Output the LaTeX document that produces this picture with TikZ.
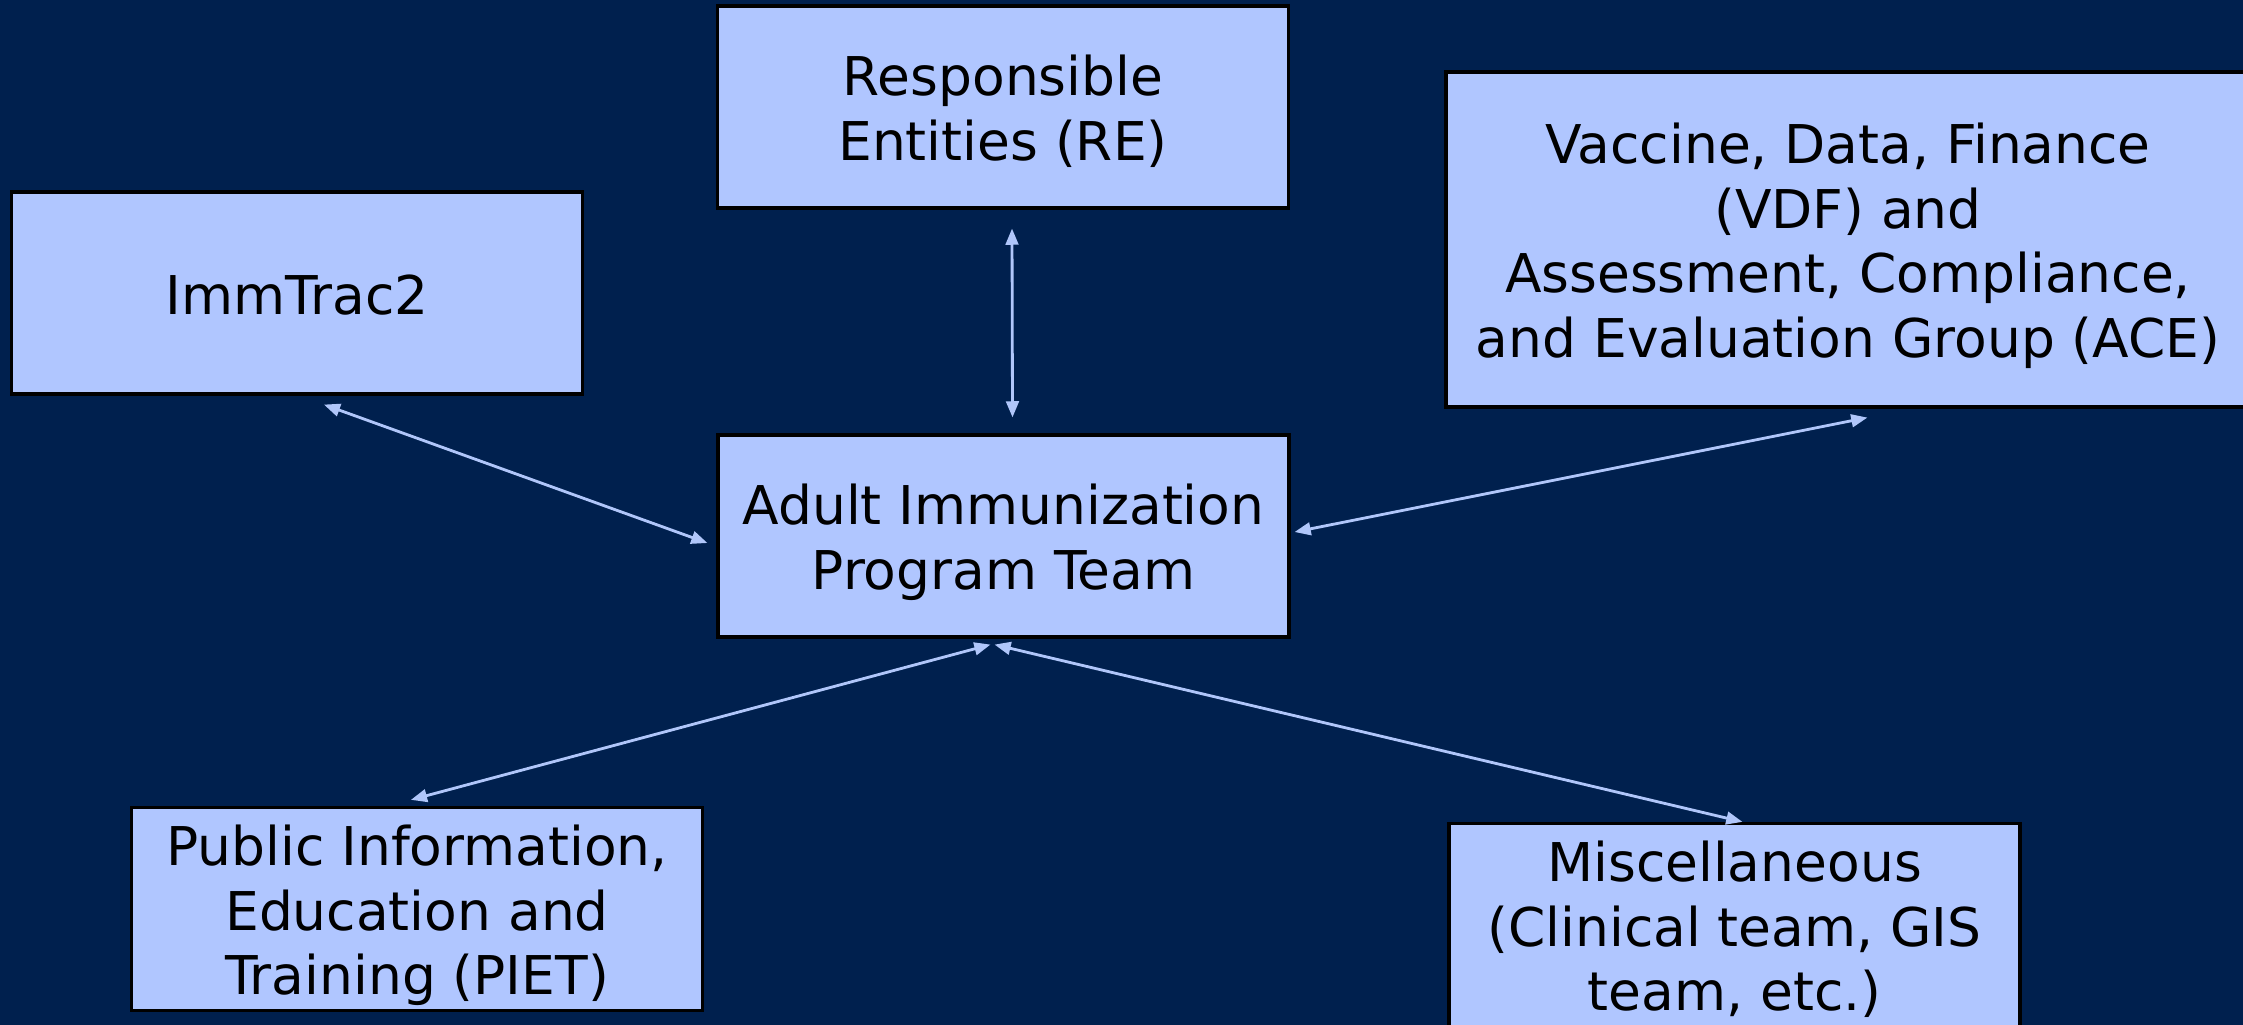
\documentclass[tikz,border=0pt]{standalone}
\usepackage{fontspec}
\setmainfont{DejaVu Sans}
\usetikzlibrary{calc,arrows.meta}
\definecolor{bgnavy}{RGB}{0,32,78}
\definecolor{boxfill}{RGB}{176,198,255}
\definecolor{arrowcol}{RGB}{176,198,250}
\newcommand\myTop{\rule{0pt}{16.5pt}}
\newcommand\myBot{\rule[-4.5pt]{0pt}{4.5pt}}
\tikzset{
  unitbox/.style={draw=black, line width=0.9pt, fill=boxfill, align=center,
    font=\fontsize{15.2pt}{18.4pt}\selectfont, inner sep=0pt,
    minimum width=5.71cm, minimum height=2.02cm},
  link/.style={draw=arrowcol, line width=0.8pt,
    {Triangle[length=4.6pt,width=3.6pt]}-{Triangle[length=4.6pt,width=3.6pt]}}
}
\begin{document}
\begin{tikzpicture}
\useasboundingbox (0,0) rectangle (22.43,10.24);
\fill[bgnavy] (-0.2,-0.2) rectangle (22.63,10.44);

\node[unitbox] (re) at (10.03,9.17) {\myTop Responsible\\Entities (RE)\myBot};
\node[unitbox] (imm) at (2.97,7.31) {\myTop ImmTrac2\myBot};
\node[unitbox, minimum width=8.04cm, minimum height=3.35cm] (vdf) at (18.48,7.845)
  {\myTop Vaccine, Data, Finance\\(VDF) and\\Assessment, Compliance,\\and Evaluation Group (ACE)\myBot};
\node[unitbox] (adult) at (10.035,4.88) {\myTop Adult Immunization\\Program Team\myBot};
\node[unitbox] (piet) at (4.17,1.15) {\myTop Public Information,\\Education and\\Training (PIET)\myBot};
\node[unitbox] (misc) at (17.345,0.99) {\myTop Miscellaneous\\(Clinical team, GIS\\team, etc.)\myBot};

\draw[link] ($(re.south)+(0.09,-0.19)$) -- ($(adult.north)+(0.09,0.16)$);
\draw[link] ($(imm.south west)+(3.14,-0.09)$) -- ($(adult.west)+(-0.09,-0.07)$);
\draw[link] ($(vdf.south west)+(4.23,-0.09)$) -- ($(adult.east)+(0.04,0.04)$);
\draw[link] ($(piet.north west)+(2.81,0.06)$) -- ($(adult.south)+(-0.13,-0.06)$);
\draw[link] ($(misc.north west)+(2.95,0.0)$) -- ($(adult.south)+(-0.09,-0.06)$);
\end{tikzpicture}
\end{document}
